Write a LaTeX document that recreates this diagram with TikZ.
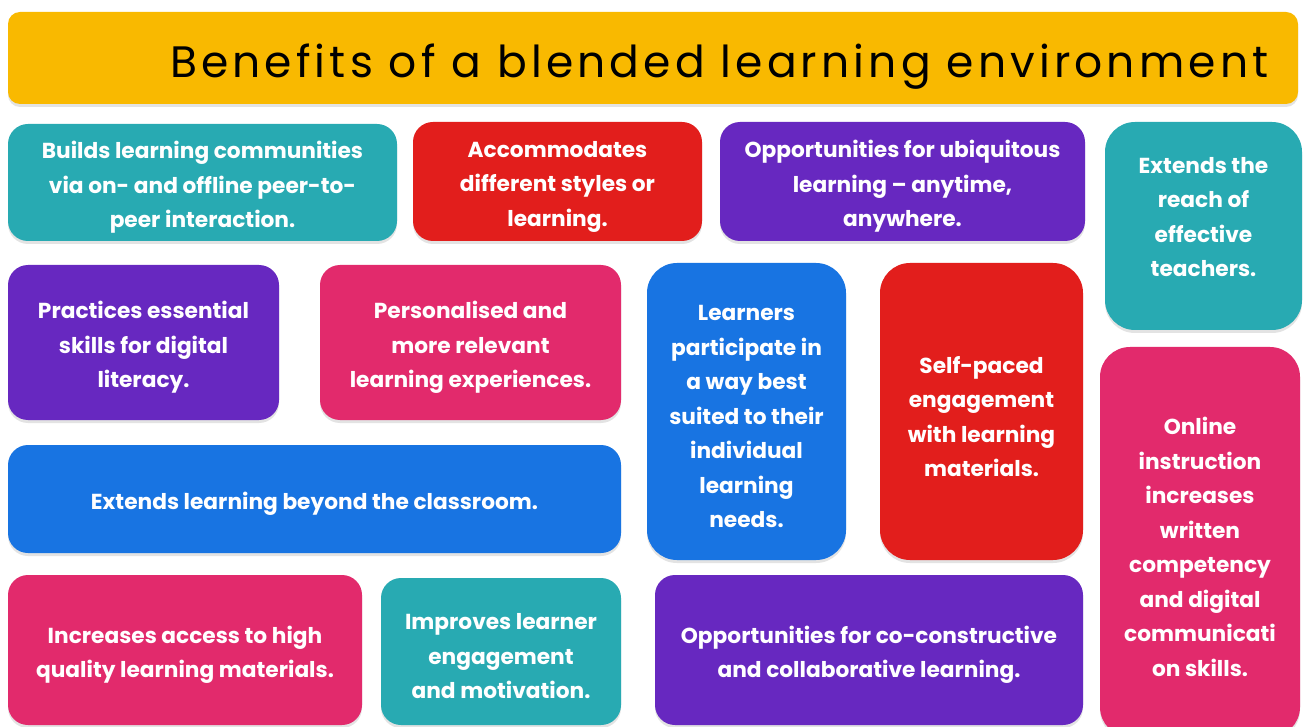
\documentclass[tikz,border=0pt]{standalone}
\usepackage{fontspec}
\setmainfont{Poppins}
\newfontfamily\titlefont[LetterSpace=9.4]{Poppins}
\usetikzlibrary{shadows}
\definecolor{cteal}{RGB}{40,170,178}
\definecolor{cred}{RGB}{226,30,28}
\definecolor{cpurple}{RGB}{103,40,192}
\definecolor{cblue}{RGB}{24,116,226}
\definecolor{cpink}{RGB}{226,42,108}
\definecolor{cyellow}{RGB}{249,185,0}
\tikzset{
  box/.style={rectangle, rounded corners=20pt, inner sep=0pt,
    drop shadow={opacity=0.22, shadow xshift=0pt, shadow yshift=-3pt}},
  tall/.style={box, rounded corners=30pt},
  txt/.style={align=center, inner sep=0pt, text=white,
    font=\fontsize{21.7}{34.5}\selectfont\bfseries, yshift=-5pt},
}
\begin{document}
\begin{tikzpicture}[x=1pt,y=-1pt]
\useasboundingbox (0,0) rectangle (1304,727);
\fill[white] (0,0) rectangle (1304,727);
% title
\node[box, rounded corners=12pt, fill=cyellow, minimum width=1290pt, minimum height=92pt] (title) at (653,58) {};
\node[anchor=base east, text=black, font=\fontsize{44}{50}\selectfont\titlefont] (ttext) at (1272,78) {Benefits of a blended learning environment};
% row 1
\node[box, fill=cteal, minimum width=389pt, minimum height=117pt, label={[txt]center:{Builds learning communities\\via on- and offline peer-to-\\peer interaction.}}] (b1) at (202.5,182.5) {};
\node[box, fill=cred, minimum width=289pt, minimum height=119pt, label={[txt]center:{Accommodates\\different styles or\\learning.}}] (b2) at (557.5,181.5) {};
\node[box, fill=cpurple, minimum width=365pt, minimum height=119pt, label={[txt]center:{Opportunities for ubiquitous\\learning -- anytime,\\anywhere.}}] (b3) at (902.5,181.5) {};
\node[tall, fill=cteal, minimum width=197pt, minimum height=208pt, label={[txt,yshift=14pt]center:{Extends the\\reach of\\effective\\teachers.}}] (b4) at (1203.5,226) {};
% row 2
\node[box, fill=cpurple, minimum width=271pt, minimum height=155pt, label={[txt]center:{Practices essential\\skills for digital\\literacy.}}] (b5) at (143.5,342.5) {};
\node[box, fill=cpink, minimum width=301pt, minimum height=155pt, label={[txt]center:{Personalised and\\more relevant\\learning experiences.}}] (b6) at (470.5,342.5) {};
\node[tall, fill=cblue, minimum width=199pt, minimum height=297pt, label={[txt]center:{Learners\\participate in\\a way best\\suited to their\\individual\\learning\\needs.}}] (b7) at (746.5,411.5) {};
\node[tall, fill=cred, minimum width=203pt, minimum height=297pt, label={[txt]center:{Self-paced\\engagement\\with learning\\materials.}}] (b8) at (981.5,411.5) {};
\node[tall, fill=cpink, minimum width=200pt, minimum height=390pt, label={[txt]center:{Online\\instruction\\increases\\written\\competency\\and digital\\communicati\\on skills.}}] (b9) at (1200,542) {};
\node[box, fill=cblue, minimum width=613pt, minimum height=108pt, label={[txt]center:{Extends learning beyond the classroom.}}] (b10) at (314.5,499) {};
% row 3
\node[box, fill=cpink, minimum width=354pt, minimum height=150pt, label={[txt]center:{Increases access to high\\quality learning materials.}}] (b11) at (185,650) {};
\node[box, fill=cteal, minimum width=240pt, minimum height=147pt, label={[txt]center:{Improves learner\\engagement\\and motivation.}}] (b12) at (501,651.5) {};
\node[box, fill=cpurple, minimum width=428pt, minimum height=150pt, label={[txt]center:{Opportunities for co-constructive\\and collaborative learning.}}] (b13) at (869,650) {};
\end{tikzpicture}
\end{document}
